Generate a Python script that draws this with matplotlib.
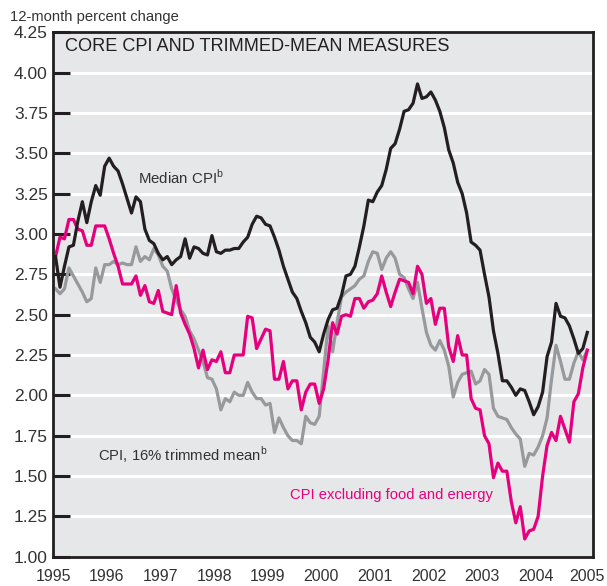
import numpy as np
import matplotlib
matplotlib.use("Agg")
import matplotlib.pyplot as plt
from matplotlib import font_manager
from matplotlib.transforms import ScaledTranslation

# monthly, Jan 1995 .. Dec 2004
median_cpi = [
    2.86, 2.67, 2.80, 2.92, 2.93, 3.08, 3.20, 3.07, 3.20, 3.30, 3.24, 3.42,
    3.47, 3.42, 3.39, 3.31, 3.22, 3.13, 3.23, 3.20, 3.03, 2.96, 2.94, 2.88,
    2.84, 2.86, 2.81, 2.84, 2.86, 2.97, 2.85, 2.92, 2.91, 2.88, 2.87, 2.99,
    2.89, 2.88, 2.90, 2.90, 2.91, 2.91, 2.95, 2.98, 3.06, 3.11, 3.10, 3.06,
    3.05, 2.98, 2.90, 2.80, 2.72, 2.64, 2.60, 2.52, 2.45, 2.36, 2.33, 2.27,
    2.38, 2.47, 2.53, 2.54, 2.62, 2.74, 2.75, 2.80, 2.92, 3.05, 3.21, 3.20,
    3.26, 3.30, 3.40, 3.53, 3.56, 3.65, 3.76, 3.77, 3.81, 3.93, 3.84, 3.85,
    3.88, 3.83, 3.76, 3.66, 3.52, 3.44, 3.32, 3.25, 3.13, 2.95, 2.93, 2.90,
    2.75, 2.61, 2.40, 2.26, 2.09, 2.09, 2.05, 2.00, 2.04, 2.03, 1.96, 1.88,
    1.93, 2.02, 2.24, 2.33, 2.57, 2.49, 2.48, 2.43, 2.35, 2.26, 2.29, 2.39,
]
core_cpi = [
    2.86, 2.98, 2.97, 3.09, 3.09, 3.03, 3.02, 2.93, 2.93, 3.05, 3.05, 3.05,
    2.97, 2.88, 2.80, 2.69, 2.69, 2.69, 2.74, 2.62, 2.68, 2.58, 2.57, 2.65,
    2.52, 2.51, 2.50, 2.68, 2.51, 2.44, 2.38, 2.29, 2.17, 2.28, 2.16, 2.22,
    2.21, 2.27, 2.14, 2.14, 2.25, 2.25, 2.25, 2.49, 2.48, 2.29, 2.35, 2.41,
    2.40, 2.10, 2.10, 2.21, 2.04, 2.09, 2.09, 1.91, 2.02, 2.07, 2.07, 1.95,
    2.04, 2.22, 2.45, 2.38, 2.49, 2.50, 2.49, 2.60, 2.60, 2.54, 2.58, 2.59,
    2.63, 2.74, 2.64, 2.55, 2.64, 2.72, 2.71, 2.70, 2.63, 2.80, 2.75, 2.57,
    2.60, 2.44, 2.54, 2.54, 2.30, 2.21, 2.37, 2.25, 2.25, 1.98, 1.92, 1.91,
    1.75, 1.70, 1.49, 1.58, 1.53, 1.53, 1.34, 1.21, 1.31, 1.11, 1.16, 1.17,
    1.25, 1.50, 1.69, 1.77, 1.72, 1.87, 1.79, 1.71, 1.96, 2.01, 2.17, 2.28,
]
trimmed_mean = [
    2.66, 2.63, 2.66, 2.79, 2.74, 2.69, 2.64, 2.58, 2.60, 2.79, 2.70, 2.81,
    2.81, 2.83, 2.81, 2.82, 2.81, 2.81, 2.92, 2.83, 2.86, 2.84, 2.91, 2.87,
    2.80, 2.77, 2.66, 2.59, 2.53, 2.49, 2.40, 2.35, 2.28, 2.21, 2.11, 2.10,
    2.04, 1.91, 1.98, 1.96, 2.02, 2.00, 2.00, 2.08, 2.02, 1.98, 1.98, 1.94,
    1.95, 1.77, 1.86, 1.80, 1.75, 1.72, 1.72, 1.70, 1.87, 1.83, 1.82, 1.87,
    2.15, 2.43, 2.27, 2.45, 2.61, 2.64, 2.66, 2.68, 2.72, 2.74, 2.83, 2.89,
    2.88, 2.78, 2.85, 2.89, 2.85, 2.75, 2.73, 2.66, 2.60, 2.70, 2.54, 2.39,
    2.31, 2.28, 2.34, 2.28, 2.18, 1.99, 2.08, 2.13, 2.14, 2.15, 2.07, 2.09,
    2.16, 2.13, 1.92, 1.87, 1.86, 1.85, 1.80, 1.76, 1.73, 1.56, 1.64, 1.63,
    1.68, 1.75, 1.86, 2.10, 2.31, 2.21, 2.10, 2.10, 2.20, 2.27, 2.22, 2.28,
]
years = list(range(1995, 2006))
y_ticks = [1.00, 1.25, 1.50, 1.75, 2.00, 2.25, 2.50, 2.75, 3.00, 3.25, 3.50, 3.75, 4.00, 4.25]

# narrow font for labels if available
names = {f.name for f in font_manager.fontManager.ttflist}
narrow = "Liberation Sans Narrow" if "Liberation Sans Narrow" in names else "Liberation Sans"
plt.rcParams["font.family"] = [narrow, "DejaVu Sans"]
plt.rcParams["mathtext.fontset"] = "custom"
plt.rcParams["mathtext.rm"] = narrow

BLACK = "#231f20"
GRAY = "#97999c"
PINK = "#e6007e"
BG = "#e6e7e8"
TXT = "#333333"

months = np.arange(len(median_cpi))
t = 1995 + (months + 0.5) / 12

fig = plt.figure(figsize=(6.07, 5.86), dpi=100)
ax = fig.add_axes([0.0878, 0.05, 0.8896, 0.8949])
ax.set_facecolor(BG)

for v in y_ticks[1:-1]:
    ax.axhline(v, color="white", lw=2.2, zorder=1)

ax.plot(t, trimmed_mean, color=GRAY, lw=2.3, zorder=3)
ax.plot(t, core_cpi, color=PINK, lw=2.3, zorder=4)
ax.plot(t, median_cpi, color=BLACK, lw=2.3, zorder=5)

ax.set_xlim(1995, 2005.07)
ax.set_ylim(1.0, 4.25)

ax.set_xticks(years)
ax.set_xticklabels([str(y) for y in years])
ax.set_xticks(years[1:-1], minor=True)
ax.tick_params(axis="x", which="major", length=0, pad=9, labelsize=11.5, colors=TXT)
ax.tick_params(axis="x", which="minor", direction="in", length=12, width=2.2, color=BLACK)
last = ax.get_xticklabels()[-1]
last.set_transform(last.get_transform() + ScaledTranslation(-0.03, 0, fig.dpi_scale_trans))

ax.set_yticks(y_ticks)
ax.set_yticklabels(["%.2f" % v for v in y_ticks])
ax.tick_params(axis="y", which="major", direction="in", length=12, width=2.2,
               pad=4, labelsize=12.5, labelcolor=TXT, color=BLACK)

for s in ax.spines.values():
    s.set_linewidth(2.0)
    s.set_color(BLACK)
    s.set_zorder(6)

fig.text(0.0165, 0.971, "12-month percent change", fontsize=10.6, color=TXT,
         va="center", ha="left")
ax.text(0.0217, 0.972, "CORE CPI AND TRIMMED-MEAN MEASURES", transform=ax.transAxes,
        fontsize=13.1, family=["Liberation Sans", "DejaVu Sans"], color=BLACK,
        va="center", ha="left")

ax.text(1996.58, 3.35, r"Median CPI$^{\rm b}$", fontsize=10.8, color=TXT,
        va="center", ha="left", zorder=7)
ax.text(1995.83, 1.63, r"CPI, 16% trimmed mean$^{\rm b}$", fontsize=10.7, color=TXT,
        va="center", ha="left", zorder=7)
ax.text(1999.42, 1.385, "CPI excluding food and energy", fontsize=10.6, color=PINK,
        va="center", ha="left", zorder=7)

fig.savefig("out.png", dpi=100)
